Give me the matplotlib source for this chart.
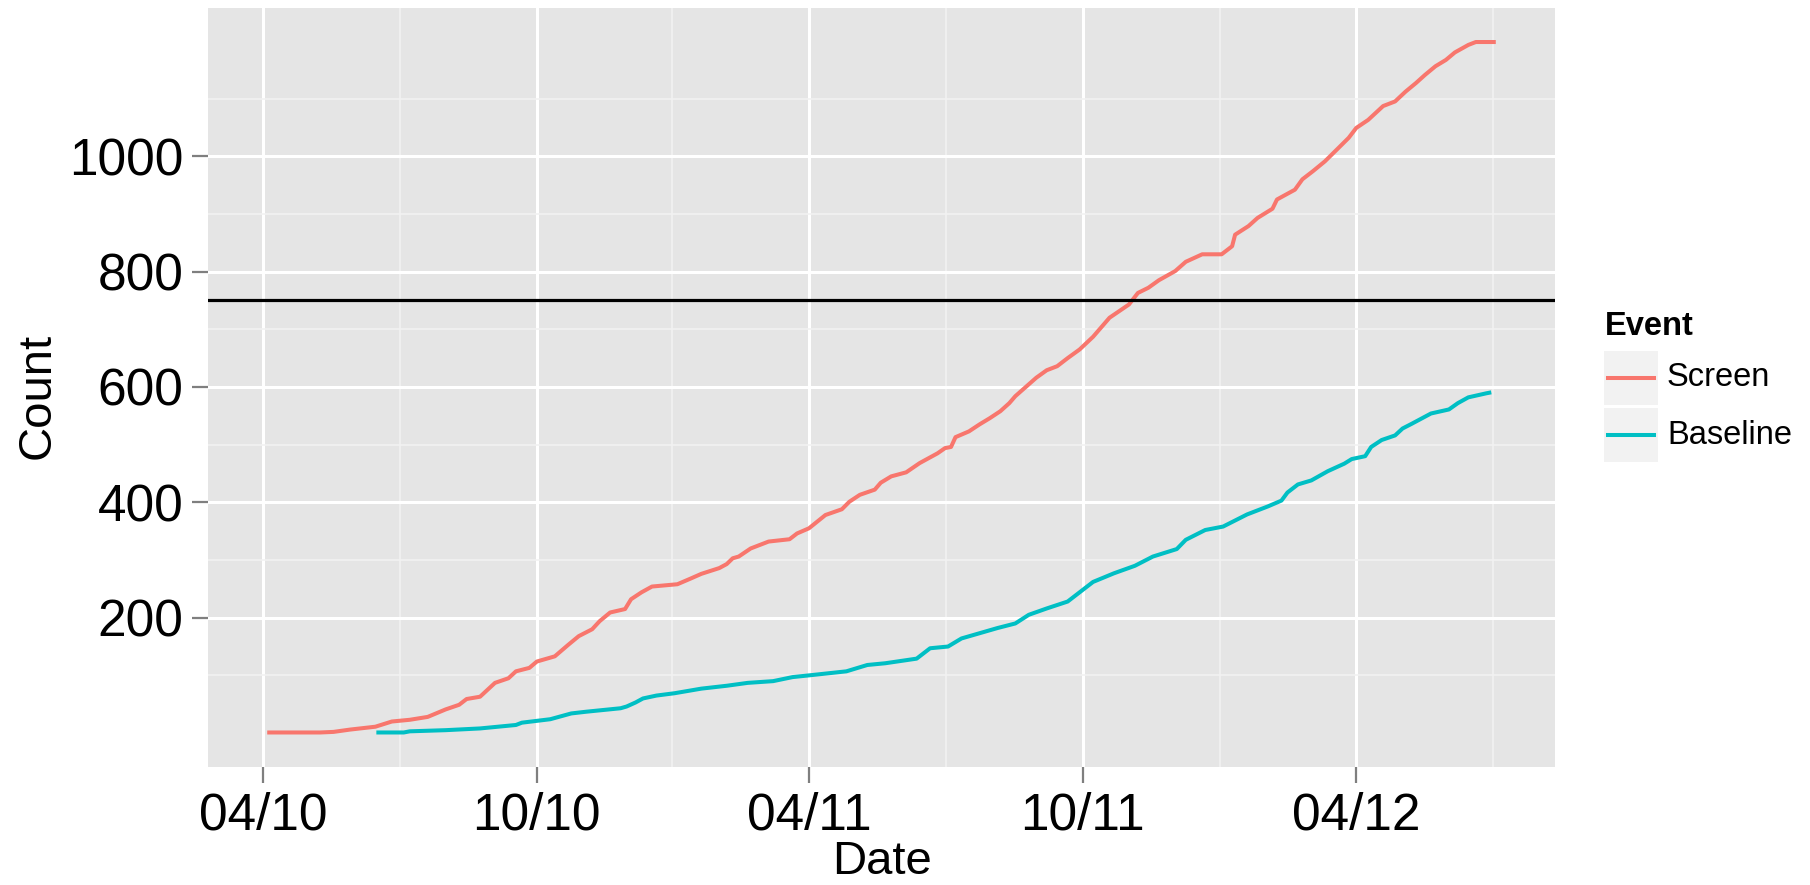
import numpy as np
import matplotlib
matplotlib.use('Agg')
import matplotlib.pyplot as plt
import matplotlib.dates as mdates
from matplotlib.patches import Rectangle
from matplotlib.lines import Line2D

# cumulative counts
screen_dates = ['2010-04-05', '2010-05-09', '2010-05-18', '2010-05-29', '2010-06-15', '2010-06-26',
                '2010-07-08', '2010-07-20', '2010-08-01', '2010-08-10', '2010-08-15', '2010-08-24',
                '2010-09-03', '2010-09-12', '2010-09-17', '2010-09-26', '2010-10-01', '2010-10-13',
                '2010-10-22', '2010-10-29', '2010-11-07', '2010-11-12', '2010-11-19', '2010-11-29',
                '2010-12-03', '2010-12-10', '2010-12-17', '2011-01-03', '2011-01-12', '2011-01-19',
                '2011-01-31', '2011-02-05', '2011-02-09', '2011-02-13', '2011-02-21', '2011-03-05',
                '2011-03-19', '2011-03-24', '2011-04-01', '2011-04-12', '2011-04-23', '2011-04-28',
                '2011-05-05', '2011-05-15', '2011-05-19', '2011-05-26', '2011-06-05', '2011-06-14',
                '2011-06-26', '2011-07-01', '2011-07-05', '2011-07-08', '2011-07-17', '2011-07-24',
                '2011-07-31', '2011-08-07', '2011-08-13', '2011-08-17', '2011-08-24', '2011-08-31',
                '2011-09-07', '2011-09-14', '2011-09-21', '2011-09-29', '2011-10-08', '2011-10-19',
                '2011-11-01', '2011-11-07', '2011-11-14', '2011-11-21', '2011-12-02', '2011-12-09',
                '2011-12-20', '2012-01-02', '2012-01-09', '2012-01-11', '2012-01-20',
                '2012-01-26', '2012-02-05', '2012-02-08', '2012-02-20', '2012-02-25', '2012-03-03',
                '2012-03-11', '2012-03-20', '2012-03-27', '2012-04-01', '2012-04-09', '2012-04-19',
                '2012-04-27', '2012-05-04', '2012-05-11', '2012-05-17', '2012-05-24', '2012-05-31',
                '2012-06-06', '2012-06-15', '2012-06-20', '2012-07-02']
screen_counts = [1, 1, 2, 6, 11, 20,
                 23, 28, 41, 49, 59, 63,
                 87, 95, 107, 113, 124, 133,
                 153, 168, 180, 194, 209, 215,
                 232, 244, 254, 258, 268, 276,
                 286, 293, 303, 306, 320, 332,
                 336, 346, 355, 378, 388, 401,
                 413, 422, 434, 445, 452, 468,
                 485, 494, 496, 513, 523, 535,
                 546, 558, 572, 584, 600, 616,
                 629, 636, 650, 665, 687, 720,
                 743, 763, 772, 785, 801, 817,
                 830, 830, 844, 864, 879,
                 893, 909, 925, 942, 960, 974,
                 991, 1014, 1032, 1049, 1063, 1087,
                 1095, 1112, 1127, 1141, 1156, 1167,
                 1180, 1193, 1198, 1198]

baseline_dates = ['2010-06-17', '2010-07-04', '2010-07-08', '2010-08-01', '2010-08-24', '2010-09-17',
                  '2010-09-21', '2010-10-10', '2010-10-24', '2010-11-03', '2010-11-26', '2010-11-30',
                  '2010-12-06', '2010-12-11', '2010-12-20', '2011-01-01', '2011-01-19', '2011-02-05',
                  '2011-02-19', '2011-03-08', '2011-03-21', '2011-04-01', '2011-04-26', '2011-05-10',
                  '2011-05-22', '2011-06-12', '2011-06-21', '2011-07-03', '2011-07-12', '2011-07-24',
                  '2011-08-05', '2011-08-17', '2011-08-26', '2011-09-07', '2011-09-21', '2011-10-01',
                  '2011-10-08', '2011-10-22', '2011-11-05', '2011-11-17', '2011-12-03', '2011-12-09',
                  '2011-12-22', '2012-01-03', '2012-01-19', '2012-01-27', '2012-02-02', '2012-02-11',
                  '2012-02-15', '2012-02-22', '2012-03-02', '2012-03-13', '2012-03-24', '2012-03-29',
                  '2012-04-07', '2012-04-11', '2012-04-18', '2012-04-27', '2012-05-02', '2012-05-08',
                  '2012-05-21', '2012-06-02', '2012-06-08', '2012-06-15', '2012-06-27', '2012-06-29']
baseline_counts = [1, 1, 3, 5, 8, 14,
                   18, 24, 34, 37, 43, 46,
                   53, 60, 65, 69, 77, 82,
                   87, 90, 97, 100, 107, 118,
                   121, 129, 147, 150, 164, 173,
                   182, 190, 205, 216, 228, 248,
                   262, 277, 290, 306, 319, 335,
                   352, 358, 379, 387, 393, 403,
                   417, 431, 438, 454, 467, 475,
                   480, 496, 508, 516, 528, 536,
                   554, 561, 572, 582, 589, 590]

threshold = 750
x_breaks = ['2010-04-01', '2010-10-01', '2011-04-01', '2011-10-01', '2012-04-01']
x_labels = ['04/10', '10/10', '04/11', '10/11', '04/12']
y_breaks = [200, 400, 600, 800, 1000]
y_minor = [100, 300, 500, 700, 900, 1100]
series_names = ['Screen', 'Baseline']
colors = ['#F8766D', '#00BFC4']

plt.rcParams['font.family'] = ['Liberation Sans', 'DejaVu Sans']

W, H = 1810, 885


def fx(px):
    return px / W


def fy(py):
    return 1 - py / H


fig = plt.figure(figsize=(W / 100, H / 100), dpi=100)
ax = fig.add_axes([fx(208), fy(767), fx(1555) - fx(208), fy(7.5) - fy(767)])
ax.set_facecolor('#E5E5E5')
for s in ax.spines.values():
    s.set_visible(False)

sx = mdates.date2num(np.array(screen_dates, dtype='datetime64[D]'))
bx = mdates.date2num(np.array(baseline_dates, dtype='datetime64[D]'))

ax.plot(sx, screen_counts, color=colors[0], lw=2.9, zorder=3)
ax.plot(bx, baseline_counts, color=colors[1], lw=2.9, zorder=3)
ax.axhline(threshold, color='black', lw=2.3, zorder=4)

xb = mdates.date2num(np.array(x_breaks, dtype='datetime64[D]'))
step = np.diff(xb).mean()
xm = np.append(xb - step / 2, xb[-1] + step / 2)
ax.set_xticks(xb)
ax.set_xticklabels(x_labels)
ax.set_xticks(xm, minor=True)
ax.set_yticks(y_breaks)
ax.set_yticks(y_minor, minor=True)

# ggplot-like 5% expansion (after the ticks, which would widen the view)
allx = np.concatenate([sx, bx])
ally = np.array(screen_counts + baseline_counts)
px_ = 0.05 * (allx.max() - allx.min())
py_ = 0.05 * (ally.max() - ally.min())
ax.set_xlim(allx.min() - px_, allx.max() + px_)
ax.set_ylim(ally.min() - py_, ally.max() + py_)

ax.grid(which='major', color='white', lw=2.2)
ax.grid(which='minor', color='#F2F2F2', lw=1.2)
ax.set_axisbelow(True)

ax.tick_params(which='major', length=11.5, width=1.6, color='#7F7F7F', labelsize=37, labelcolor='black')
ax.tick_params(axis='y', pad=6)
ax.tick_params(axis='x', pad=6.5)
ax.tick_params(which='minor', length=0)

fig.text(fx(881.5), fy(874), 'Date', ha='center', va='baseline', size=34)
fig.text(fx(37.5), fy(396), 'Count', ha='center', va='center', rotation=90, size=34)

# legend drawn by hand to get ggplot's grey key boxes
fig.text(fx(1605), fy(335), 'Event', weight='bold', size=23.5, va='baseline')
for i, (name, c) in enumerate(zip(series_names, colors)):
    top = 351 + i * 57
    fig.add_artist(Rectangle((fx(1604), fy(top + 54)), fx(1658) - fx(1604), fy(top) - fy(top + 54),
                             transform=fig.transFigure, facecolor='#F2F2F2', edgecolor='none'))
    yc = top + 27
    fig.add_artist(Line2D([fx(1608), fx(1654)], [fy(yc), fy(yc)], color=c, lw=2.9,
                          transform=fig.transFigure))
    fig.text(fx(1667), fy(yc), name, va='center', size=23.5)

fig.savefig('out.png', dpi=100)
